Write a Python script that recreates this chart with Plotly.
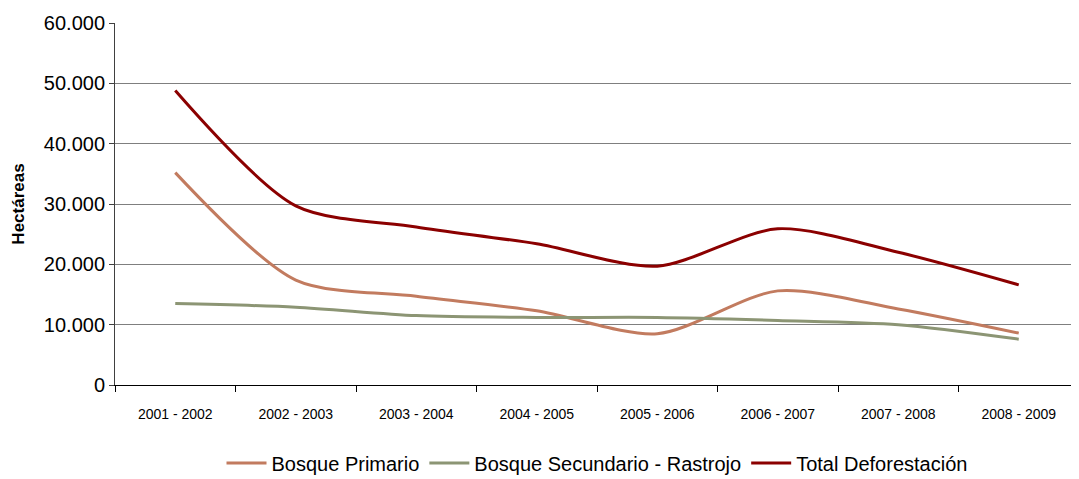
import plotly.graph_objects as go

categories = ["2001 - 2002", "2002 - 2003", "2003 - 2004", "2004 - 2005",
              "2005 - 2006", "2006 - 2007", "2007 - 2008", "2008 - 2009"]
primario = [35200, 17400, 14700, 12300, 8500, 15600, 12600, 8600]
secundario = [13500, 12900, 11500, 11200, 11200, 10700, 10000, 7600]
total = [48800, 29700, 26200, 23400, 19700, 25900, 22000, 16600]

y_ticks = [0, 10000, 20000, 30000, 40000, 50000, 60000]
y_tick_text = ["0", "10.000", "20.000", "30.000", "40.000", "50.000", "60.000"]

series = [
    ("Bosque Primario", primario, "#C27B5F"),
    ("Bosque Secundario - Rastrojo", secundario, "#8C9574"),
    ("Total Deforestación", total, "#8B0000"),
]

fig = go.Figure()
for name, vals, col in series:
    fig.add_trace(go.Scatter(
        x=categories, y=vals, name=name, mode="lines",
        line=dict(color=col, width=3, shape="spline", smoothing=0.8),
    ))

fig.update_layout(
    width=1079, height=479,
    margin=dict(l=107, r=8, t=15, b=102),
    paper_bgcolor="white", plot_bgcolor="white",
    font=dict(family="Arial, Liberation Sans, sans-serif", color="#000000"),
    showlegend=True,
    legend=dict(orientation="h", xref="paper", x=0.5, xanchor="center",
                yref="container", y=0.05, yanchor="middle",
                font=dict(size=20, family="Arial, Liberation Sans, sans-serif"),
                itemwidth=40, tracegroupgap=0),
)
fig.update_xaxes(
    type="category", range=[-0.5, 7.5], automargin=False,
    showline=True, linecolor="#000000", linewidth=1,
    ticks="outside", tickson="boundaries", ticklen=6, tickcolor="#000000",
    tickfont=dict(size=14, family="Arial, Liberation Sans, sans-serif"),
    ticklabelstandoff=16,
    showgrid=False, zeroline=False,
)
fig.update_yaxes(
    range=[0, 60000], tickvals=y_ticks, ticktext=y_tick_text, automargin=False,
    showline=True, linecolor="#404040", linewidth=1,
    ticks="outside", ticklen=5, tickcolor="#404040",
    tickfont=dict(size=20),
    showgrid=True, gridcolor="#7F7F7F", gridwidth=1,
    zeroline=False,
    title=dict(text="<b>Hectáreas</b>", font=dict(size=17), standoff=14),
)

fig.write_html("out.html")
